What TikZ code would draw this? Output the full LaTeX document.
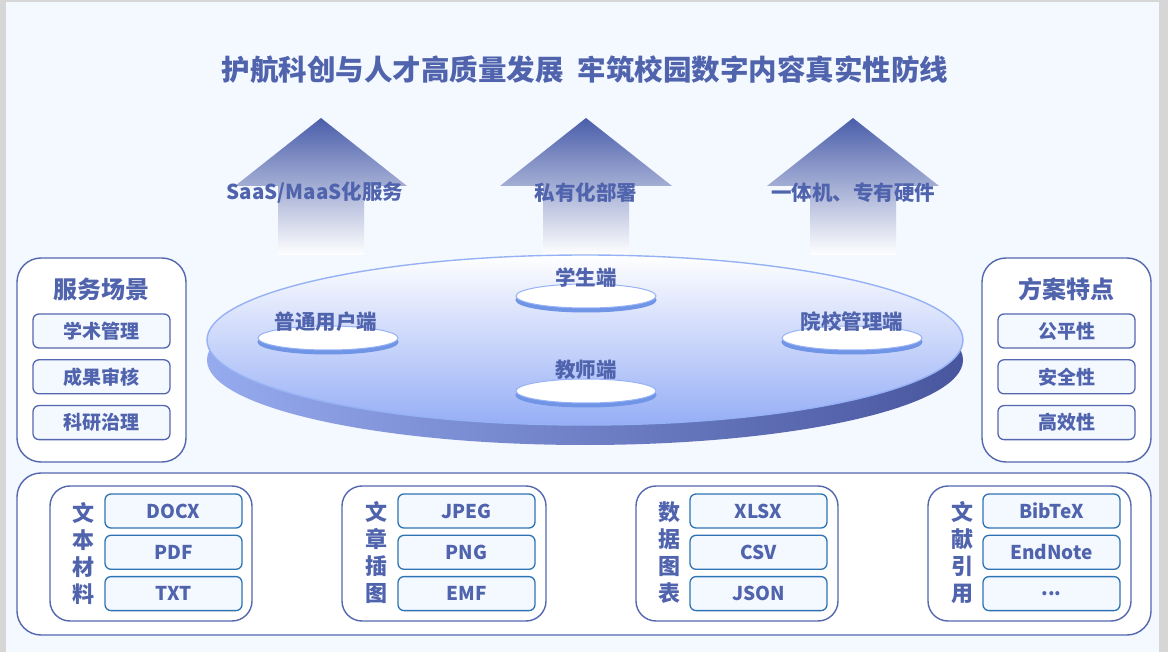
\documentclass[tikz,border=0pt]{standalone}
\usepackage{fontspec}
\setmainfont{Noto Sans CJK SC}
\usepackage{xcolor}
\usetikzlibrary{positioning,shapes.geometric}

\definecolor{ink}{RGB}{80,99,173}
\definecolor{frame}{RGB}{84,104,176}
\definecolor{itemline}{RGB}{46,116,181}
\definecolor{slide}{RGB}{244,248,255}
\definecolor{edge}{RGB}{214,214,214}
\definecolor{arrowtop}{RGB}{74,94,170}
\definecolor{arrowmid}{RGB}{198,205,233}
\definecolor{diskmid}{RGB}{222,251,255}
\definecolor{diskbot}{RGB}{150,174,246}
\definecolor{sideleft}{RGB}{150,170,238}
\definecolor{sideright}{RGB}{72,86,158}
\definecolor{rim}{RGB}{150,178,245}
\definecolor{puckside}{RGB}{112,148,230}

\begin{document}
\begin{tikzpicture}[x=1pt,y=-1pt,node distance=6pt,text=ink]
  \tikzstyle{panel}=[draw=frame,line width=1.4pt,rounded corners=24pt,fill=white,inner sep=0pt]
  \tikzstyle{group}=[draw=frame,line width=1.4pt,rounded corners=20pt,fill=white,inner sep=0pt]
  \tikzstyle{tag}=[draw=frame,line width=1.3pt,rounded corners=6pt,fill=slide,minimum width=137pt,minimum height=34pt,inner sep=0pt,font=\bfseries\fontsize{19}{22}\selectfont]
  \tikzstyle{fmt}=[tag,draw=itemline]
  \tikzstyle{paneltitle}=[font=\bfseries\fontsize{24}{28}\selectfont]
  \tikzstyle{mode}=[font=\bfseries\fontsize{20.5}{24}\selectfont]
  \tikzstyle{client}=[font=\bfseries\fontsize{20.5}{24}\selectfont]
  \tikzstyle{vlabel}=[align=center,inner sep=0pt,font=\bfseries\fontsize{22}{27}\selectfont]
  \tikzstyle{uparrow}=[top color=arrowtop,middle color=arrowmid,bottom color=white]
  \tikzstyle{puck}=[ellipse,minimum width=140pt,minimum height=24pt,inner sep=0pt,fill=white,draw=rim,line width=1pt]
  \tikzstyle{puckbase}=[puck,fill=puckside,draw=puckside]
  \useasboundingbox (0,0) rectangle (1168,652);
  \fill[edge] (0,0) rectangle (1168,652);
  \fill[slide] (6,2) rectangle (1159,652);
  % Title
  \node[font=\bfseries\fontsize{28.5}{32}\selectfont] (title) at (585,70) {护航科创与人才高质量发展\hspace{14pt}牢筑校园数字内容真实性防线};
  % Deployment modes
  \foreach \cx in {321,586,853}
    \shade[uparrow] (\cx,118) -- (\cx+86,186) -- (\cx+43,186) -- (\cx+43,255) -- (\cx-43,255) -- (\cx-43,186) -- (\cx-86,186) -- cycle;
  \node[mode] (saas) at (315,193) {SaaS/MaaS化服务};
  \node[mode] (priv) at (586,193) {私有化部署};
  \node[mode] (hw)   at (853,193) {一体机、专有硬件};
  % Platform disk
  \shade[left color=sideleft,right color=sideright] (585,360) ellipse [x radius=378pt,y radius=85pt];
  \shade[top color=white,middle color=diskmid,bottom color=diskbot] (585,340) ellipse [x radius=378pt,y radius=85pt];
  \draw[rim,line width=1.4pt] (585,340) ellipse [x radius=378pt,y radius=85pt];
  \foreach \px/\py/\nm in {586/296/stu,328/338/usr,852/338/adm,586/391/tch} {
    \node[puckbase] (\nm base) at (\px,\py+4) {};
    \node[puck] (\nm puck) at (\px,\py) {};
  }
  \node[client] (stu) at (586,278) {学生端};
  \node[client] (usr) at (326,322) {普通用户端};
  \node[client] (adm) at (852,322) {院校管理端};
  \node[client] (tch) at (586,370) {教师端};
  % Service scenarios
  \node[panel,minimum width=169pt,minimum height=204pt] (scene) at (101.5,360) {};
  \node[paneltitle] (scenet) at (101.5,289) {服务场景};
  \node[tag] (acad) at (101.5,331) {学术管理};
  \node[tag,below=10.5pt of acad] (audit) {成果审核};
  \node[tag,below=10.5pt of audit] (gov) {科研治理};
  % Features
  \node[panel,minimum width=169pt,minimum height=204pt] (feat) at (1066.5,360) {};
  \node[paneltitle] (featt) at (1066.5,289) {方案特点};
  \node[tag] (fair) at (1066.5,331) {公平性};
  \node[tag,below=10.5pt of fair] (safe) {安全性};
  \node[tag,below=10.5pt of safe] (eff) {高效性};
  % Supported formats
  \node[panel,minimum width=1134pt,minimum height=162pt] (formats) at (584,554) {};
  \node[group,minimum width=202pt,minimum height=135pt] (g1) at (151,553.5) {};
  \node[vlabel] (g1t) at (83,553) {文\\本\\材\\料};
  \node[fmt] (docx) at (173.5,511) {DOCX};
  \node[fmt,below=of docx] (pdf) {PDF};
  \node[fmt,below=of pdf] (txt) {TXT};
  \node[group,minimum width=204pt,minimum height=135pt] (g2) at (444,553.5) {};
  \node[vlabel] (g2t) at (376,553) {文\\章\\插\\图};
  \node[fmt] (jpeg) at (466.5,511) {JPEG};
  \node[fmt,below=of jpeg] (png) {PNG};
  \node[fmt,below=of png] (emf) {EMF};
  \node[group,minimum width=202pt,minimum height=135pt] (g3) at (737,553.5) {};
  \node[vlabel] (g3t) at (669,553) {数\\据\\图\\表};
  \node[fmt] (xlsx) at (758.5,511) {XLSX};
  \node[fmt,below=of xlsx] (csv) {CSV};
  \node[fmt,below=of csv] (json) {JSON};
  \node[group,minimum width=203pt,minimum height=135pt] (g4) at (1029.5,553.5) {};
  \node[vlabel] (g4t) at (962,553) {文\\献\\引\\用};
  \node[fmt] (bib) at (1051.5,511) {BibTeX};
  \node[fmt,below=of bib] (enote) {EndNote};
  \node[fmt,below=of enote] (more) {...};
\end{tikzpicture}
\end{document}
